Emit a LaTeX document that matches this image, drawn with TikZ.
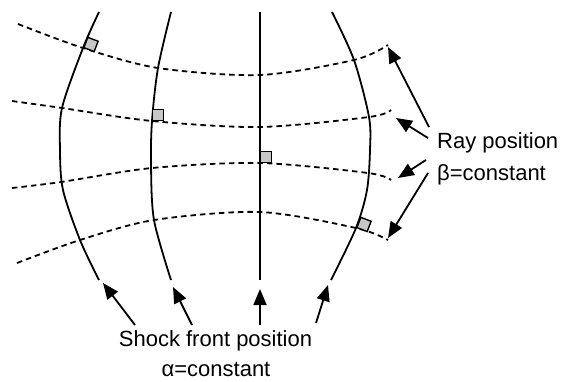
\documentclass[tikz,border=0pt]{standalone}
\usepackage{fontspec}
\setmainfont{Liberation Sans}
\usetikzlibrary{arrows.meta}
\begin{document}
\begin{tikzpicture}[x=1pt,y=-1pt,
  front/.style={line width=1.8pt},
  rayline/.style={line width=1.8pt, dash pattern=on 5.5pt off 4pt},
  pointer/.style={line width=1.8pt, -{Triangle[length=16pt,width=13pt]}},
  sq/.style={draw, line width=1.4pt, fill=black!22, minimum size=11pt, inner sep=0pt, anchor=south west},
  lbl/.style={font=\fontsize{22}{26}\selectfont, inner sep=0pt}]
\useasboundingbox (0,0) rectangle (562,381);
% shock fronts
\draw[front] plot[smooth] coordinates {(99,12) (83,48) (62,108) (60,150) (63,190) (80,240) (99,280)};
\draw[front] plot[smooth] coordinates {(171,12) (158,68) (152,121) (151,165) (154,220) (171,280)};
\draw[front] (260,12) -- (260,280);
\draw[front] plot[smooth] coordinates {(332,12) (354,60) (369,117) (370,150) (367,190) (356,228) (331,280)};
% rays
\draw[rayline] plot[smooth] coordinates {(18,24) (83,48) (158,68) (260,75) (354,60) (388,45)};
\draw[rayline] plot[smooth] coordinates {(12,101) (62,108) (152,121) (260,127) (369,117) (391,110)};
\draw[rayline] plot[smooth] coordinates {(12,188) (61,182) (152,168) (260,163) (368,173) (391,180)};
\draw[rayline] plot[smooth] coordinates {(17,263) (80,240) (154,220) (260,212) (356,228) (388,240)};
% right-angle markers
\node[sq, rotate=-21] (s1) at (83,48) {};
\node[sq] (s2) at (152,121) {};
\node[sq] (s3) at (260,163) {};
\node[sq, rotate=-21] (s4) at (356,228) {};
% labels
\node[lbl, anchor=base west] (ray) at (437,148) {Ray position};
\node[lbl, anchor=base west] (beta) at (437,180) {β=constant};
\node[lbl, anchor=base] (shock) at (215.5,346) {Shock front position};
\node[lbl, anchor=base] (alpha) at (216,376) {α=constant};
% arrow coordinates
\coordinate (ra1) at (429,127); \coordinate (rt1) at (388,47);
\coordinate (ra2) at (428,138); \coordinate (rt2) at (396,118);
\coordinate (ra3) at (426,160); \coordinate (rt3) at (398,178);
\coordinate (ra4) at (428,173); \coordinate (rt4) at (388,238);
\coordinate (sa1) at (135,325); \coordinate (st1) at (103,283);
\coordinate (sa2) at (192,325); \coordinate (st2) at (173,287);
\coordinate (sa3) at (260,325); \coordinate (st3) at (260,289);
\coordinate (sa4) at (316,323); \coordinate (st4) at (328,285);
\foreach \i in {1,...,4} {
  \draw[pointer] (ra\i) -- (rt\i);
  \draw[pointer] (sa\i) -- (st\i);
}
\end{tikzpicture}
\end{document}
